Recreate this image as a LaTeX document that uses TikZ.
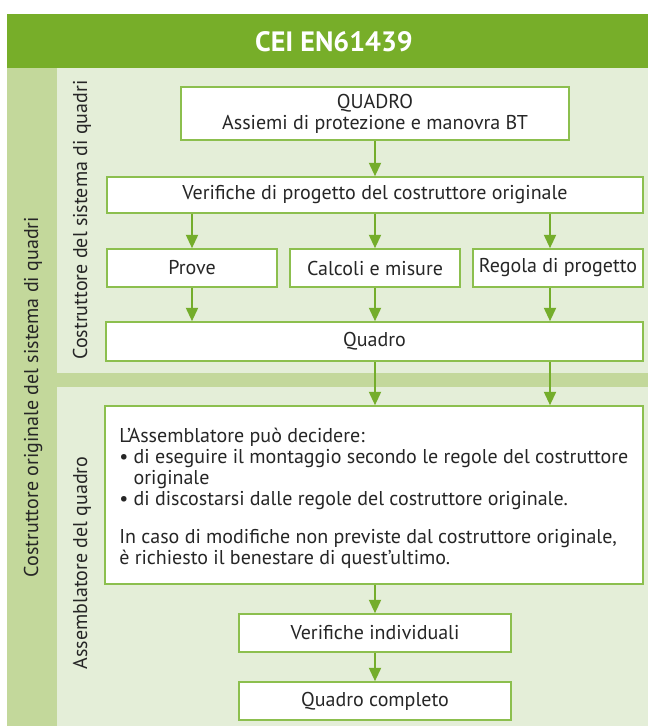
\documentclass[tikz,border=0pt]{standalone}
\usepackage{fontspec}
\setmainfont{PT Sans}
\usetikzlibrary{arrows.meta}
\definecolor{hdr}{HTML}{77AE29}
\definecolor{strip}{HTML}{C3D89B}
\definecolor{pale}{HTML}{E4EED8}
\definecolor{bord}{HTML}{8CBF4E}
\definecolor{arr}{HTML}{74AD2B}
\begin{document}
\begin{tikzpicture}[x=0.75pt,y=-0.75pt,
  box/.style={draw=bord, line width=1.2pt, fill=white, inner sep=0pt, align=center,
    font=\fontsize{15}{15.75}\selectfont, text=black!85},
  flow/.style={draw=arr, line width=1.4pt, -{Triangle[width=9pt,length=10pt]}},
  vlabel/.style={rotate=90, font=\fontsize{15}{15}\selectfont, text=black!85}]
\useasboundingbox (0,0) rectangle (648,727);
% backgrounds
\fill[hdr] (7,14) rectangle (648,68);
\fill[strip] (7,68) rectangle (648,726);
\fill[pale] (57,68) rectangle (648,373);
\fill[pale] (57,387) rectangle (648,726);
\node[text=white, font=\fontsize{21}{24}\selectfont\bfseries] (title) at (334,42) {CEI EN61439};
% side labels
\node[vlabel] (outer) at (33,397) {Costruttore originale del sistema di quadri};
\node[vlabel] (upper) at (82,220) {Costruttore del sistema di quadri};
\node[vlabel] (lower) at (82,563) {Assemblatore del quadro};
% boxes
\node[box, minimum width=291pt, minimum height=39.75pt] (q) at (375,113.5) {QUADRO\\Assiemi di protezione e manovra BT};
\node[box, minimum width=402pt, minimum height=27pt] (vp) at (375,195) {Verifiche di progetto del costruttore originale};
\node[box, minimum width=127.5pt, minimum height=28.5pt] (pr) at (192,268) {Prove};
\node[box, minimum width=127.5pt, minimum height=28.5pt] (cm) at (375,268) {Calcoli e misure};
\node[box, minimum width=127.5pt, minimum height=28.5pt] (rp) at (558,268) {Regola di progetto};
\node[box, minimum width=402.75pt, minimum height=29.25pt] (qd) at (374.5,341.5) {Quadro};
\node[box, minimum width=403.5pt, minimum height=133.5pt] (tb) at (374,495) {};
\node[anchor=north west, inner sep=0pt, align=left, font=\fontsize{15}{15.75}\selectfont, text=black!85] (tt) at (119,428)
 {L’Assemblatore può decidere:\\
  \textbullet\ di eseguire il montaggio secondo le regole del costruttore\\
  \phantom{\textbullet\ }originale\\
  \textbullet\ di discostarsi dalle regole del costruttore originale.\\[12.5pt]
  In caso di modifiche non previste dal costruttore originale,\\
  è richiesto il benestare di quest’ultimo.};
\node[box, minimum width=204pt, minimum height=28.5pt] (vi) at (375,633) {Verifiche individuali};
\node[box, minimum width=204pt, minimum height=28.5pt] (qc) at (375,701) {Quadro completo};
% arrows
\draw[flow] (q.south) -- (vp.north);
\draw[flow] (vp.south -| pr.north) -- (pr.north);
\draw[flow] (vp.south -| cm.north) -- (cm.north);
\draw[flow] ([xshift=-6pt]rp.north |- vp.south) -- ([xshift=-6pt]rp.north);
\draw[flow] (pr.south) -- (qd.north -| pr.south);
\draw[flow] (cm.south) -- (qd.north -| cm.south);
\draw[flow] ([xshift=-6pt]rp.south) -- ([xshift=-6pt]rp.south |- qd.north);
\draw[flow] (qd.south -| cm.south) -- (tb.north -| cm.south);
\draw[flow] ([xshift=-6pt]rp.south |- qd.south) -- ([xshift=-6pt]rp.south |- tb.north);
\draw[flow] (tb.south -| vi.north) -- (vi.north);
\draw[flow] (vi.south) -- (qc.north);
\end{tikzpicture}
\end{document}
